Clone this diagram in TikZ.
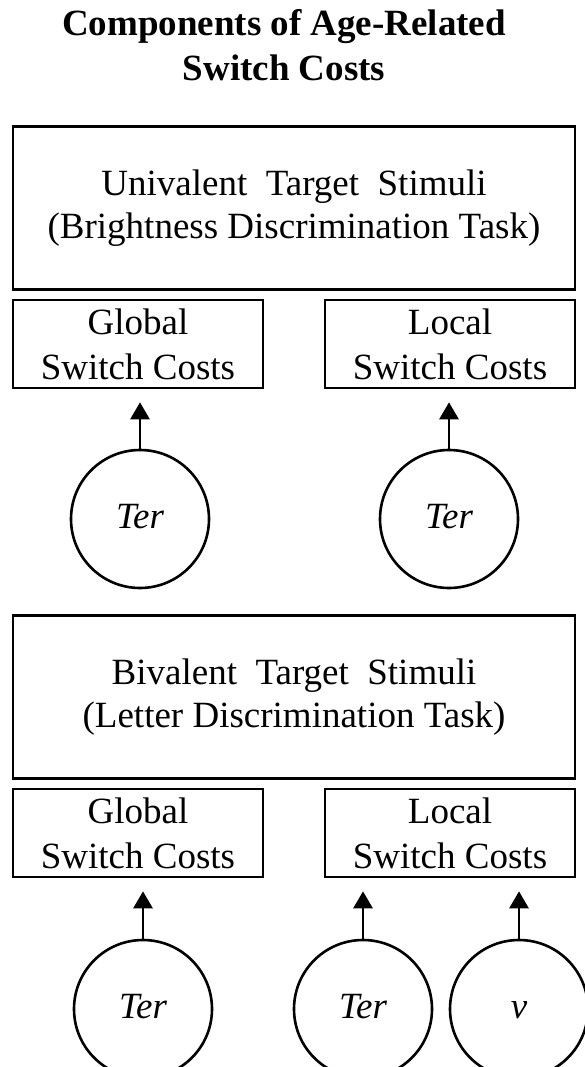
\documentclass[tikz,border=0pt]{standalone}
\usepackage{fontspec}
\setmainfont{Liberation Serif}
\usepackage{tikz}
\usetikzlibrary{arrows.meta}

\begin{document}
\begin{tikzpicture}[x=1pt,y=-1pt,
  box/.style={draw,line width=2.6pt,inner sep=0pt,align=center,
    font=\fontsize{37}{45}\selectfont},
  latent/.style={circle,draw,line width=2.6pt,inner sep=0pt,minimum size=138pt,
    text height=25pt,text depth=6pt,font=\fontsize{37}{45}\selectfont\itshape},
  arr/.style={line width=2.8pt,-{Triangle[width=19pt,length=17pt]},shorten >=13pt}]
\useasboundingbox (0,0) rectangle (584,1067);
 \node (title) at (284,45) [align=center,inner sep=0pt,font=\fontsize{37}{45}\selectfont\bfseries]
   {Components of Age-Related\\Switch Costs};
 % univalent stimuli
 \node (uni) at (294,208) [box,minimum width=562pt,minimum height=163pt,
   font=\fontsize{37}{43}\selectfont] {Univalent\ \ Target\ \ Stimuli\\(Brightness\ Discrimination\ Task)};
 \node (gsc1) at (138,344) [box,minimum width=250pt,minimum height=88pt] {Global\\Switch Costs};
 \node (lsc1) at (450,344) [box,minimum width=250pt,minimum height=88pt] {Local\\Switch Costs};
 \node (ter1) at (140,519) [latent] {Ter};
 \node (ter2) at (449,519) [latent] {Ter};
 \draw[arr] (ter1) -- (ter1 |- gsc1.south);
 \draw[arr] (ter2) -- (ter2 |- lsc1.south);
 % bivalent stimuli
 \node (biv) at (294,697) [box,minimum width=562pt,minimum height=163pt,
   font=\fontsize{37}{43}\selectfont] {Bivalent\ \ Target\ \ Stimuli\\(Letter\ Discrimination\ Task)};
 \node (gsc2) at (138,833) [box,minimum width=250pt,minimum height=88pt] {Global\\Switch Costs};
 \node (lsc2) at (450,833) [box,minimum width=250pt,minimum height=88pt] {Local\\Switch Costs};
 \node (ter3) at (143,1009) [latent] {Ter};
 \node (ter4) at (363,1009) [latent] {Ter};
 \node (v1) at (519,1009) [latent] {v};
 \draw[arr] (ter3) -- (ter3 |- gsc2.south);
 \draw[arr] (ter4) -- (ter4 |- lsc2.south);
 \draw[arr] (v1) -- (v1 |- lsc2.south);
\end{tikzpicture}
\end{document}
